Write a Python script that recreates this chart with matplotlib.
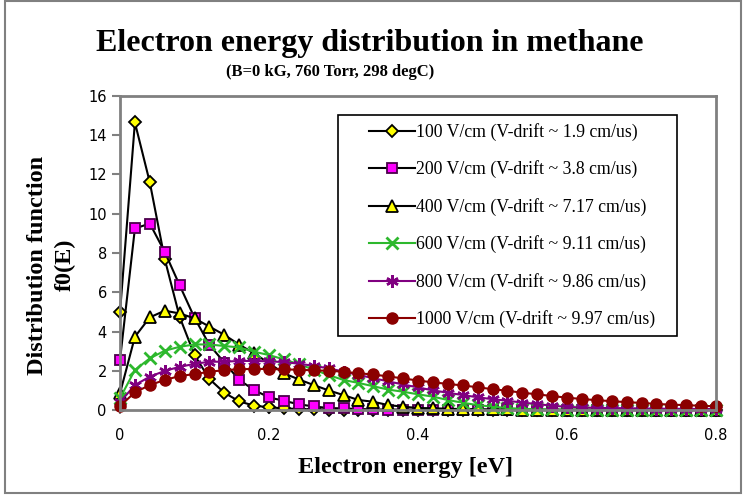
import matplotlib.pyplot as plt
from matplotlib.patches import Rectangle

energy = [round(0.02 * i, 2) for i in range(41)]

f_100 = [4.97, 14.65, 11.6, 7.7, 4.75, 2.8, 1.58, 0.88, 0.44, 0.22, 0.14, 0.08, 0.05, 0.03,
         0.02, 0.01, 0.01, 0, 0, 0, 0, 0, 0, 0, 0, 0, 0, 0, 0, 0, 0, 0, 0, 0, 0, 0, 0, 0, 0, 0, 0]
f_200 = [2.55, 9.25, 9.5, 8.06, 6.36, 4.7, 3.32, 2.42, 1.53, 1.02, 0.64, 0.47, 0.29, 0.18,
         0.1, 0.08, 0.05, 0.03, 0.02, 0.02, 0.01, 0.01, 0.01, 0, 0, 0, 0, 0, 0, 0, 0, 0, 0, 0,
         0, 0, 0, 0, 0, 0, 0]
f_400 = [0.85, 3.73, 4.72, 5.06, 4.92, 4.67, 4.25, 3.83, 3.33, 2.89, 2.38, 1.87, 1.56, 1.27,
         1.0, 0.76, 0.51, 0.42, 0.25, 0.17, 0.1, 0.09, 0.06, 0.05, 0.04, 0.03, 0.03, 0.02, 0.02,
         0.01, 0.01, 0.01, 0.01, 0, 0, 0, 0, 0, 0, 0, 0]
f_600 = [0.6, 2.04, 2.63, 3.02, 3.22, 3.34, 3.34, 3.26, 3.19, 2.97, 2.8, 2.58, 2.33, 2.06,
         1.78, 1.53, 1.38, 1.21, 1.04, 0.93, 0.8, 0.68, 0.51, 0.37, 0.25, 0.17, 0.1, 0.06, 0.04,
         0.03, 0.02, 0.02, 0.01, 0.01, 0.01, 0.01, 0, 0, 0, 0, 0]
f_800 = [0.4, 1.27, 1.7, 1.99, 2.2, 2.35, 2.46, 2.46, 2.5, 2.5, 2.48, 2.44, 2.36, 2.25, 2.12,
         1.96, 1.79, 1.62, 1.46, 1.3, 1.15, 1.0, 0.88, 0.76, 0.65, 0.55, 0.47, 0.38, 0.3, 0.22,
         0.16, 0.13, 0.11, 0.1, 0.09, 0.08, 0.07, 0.06, 0.06, 0.05, 0.05]
f_1000 = [0.2, 0.9, 1.27, 1.53, 1.73, 1.83, 1.95, 2.03, 2.08, 2.09, 2.09, 2.07, 2.05, 2.02,
          2.0, 1.95, 1.87, 1.81, 1.71, 1.61, 1.5, 1.41, 1.33, 1.25, 1.16, 1.06, 0.98, 0.88,
          0.8, 0.71, 0.63, 0.56, 0.5, 0.45, 0.4, 0.36, 0.31, 0.27, 0.25, 0.21, 0.19]

labels = ["100 V/cm (V-drift ~ 1.9 cm/us)",
          "200 V/cm (V-drift ~ 3.8 cm/us)",
          "400 V/cm (V-drift ~ 7.17 cm/us)",
          "600 V/cm (V-drift ~ 9.11 cm/us)",
          "800 V/cm (V-drift ~ 9.86 cm/us)",
          "1000 V/cm (V-drift ~ 9.97 cm/us)"]

serif = "Liberation Serif"
W, H = 747, 497

fig = plt.figure(figsize=(W / 100, H / 100), dpi=100)
ax = fig.add_axes([120 / W, 1 - 410 / H, 596 / W, 314 / H])

ax.plot(energy, f_100, "-D", color="black", lw=1.5, ms=6.5, mfc="#FFFF00", mec="black",
        mew=1.3, label=labels[0], clip_on=False)
ax.plot(energy, f_200, "-s", color="black", lw=1.5, ms=7, mfc="#FF00FF", mec="#4B004B",
        mew=1.3, label=labels[1], clip_on=False)
ax.plot(energy, f_400, "-^", color="black", lw=1.5, ms=8, mfc="#FFFF00", mec="black",
        mew=1.3, label=labels[2], clip_on=False)
ax.plot(energy, f_600, "-x", color="#2DB82D", lw=1.5, ms=8, mew=2, label=labels[3],
        clip_on=False)
# six-armed asterisk marker
ax.plot(energy, f_800, "-", marker=(6, 2, 0), color="#800080", lw=1.5, ms=9, mew=1.8,
        label=labels[4], clip_on=False)
ax.plot(energy, f_1000, "-o", color="#8B0000", lw=1.5, ms=8, mfc="#8B0000", mec="#8B0000",
        label=labels[5], clip_on=False)

ax.set_xlim(0, 0.8)
ax.set_ylim(0, 16)
ax.set_xticks([0, 0.2, 0.4, 0.6, 0.8])
ax.set_xticklabels(["0", "0.2", "0.4", "0.6", "0.8"])
ax.set_yticks(range(0, 17, 2))
ax.tick_params(axis="both", labelsize=10.5, color="#808080", width=1.5)
ax.tick_params(axis="y", length=6)
ax.tick_params(axis="x", length=3, pad=10)
for s in ax.spines.values():
    s.set_color("#808080")
    s.set_linewidth(2)

# axis titles
fig.text(405 / W, 1 - 467 / H, "Electron energy [eV]", family=serif,
         fontweight="bold", fontsize=17.5, ha="center", va="center")
fig.text(38 / W, 1 - 265 / H, "Distribution function", family=serif,
         fontweight="bold", fontsize=17.5, rotation=90, ha="center", va="center")
fig.text(65 / W, 1 - 265 / H, "f0(E)", family=serif, fontweight="bold",
         fontsize=17.5, rotation=90, ha="center", va="center")

# chart title
fig.text(370 / W, 1 - 44 / H, "Electron energy distribution in methane", family=serif,
         fontweight="bold", fontsize=23, ha="center", va="center")
fig.text(330 / W, 1 - 72 / H, "(B=0 kG, 760 Torr, 298 degC)", family=serif,
         fontweight="bold", fontsize=12, ha="center", va="center")

# legend: entries without frame, box drawn separately behind them
leg = ax.legend(loc="upper left", bbox_to_anchor=(361 / W, 1 - 115 / H),
                bbox_transform=fig.transFigure, prop={"family": serif, "size": 12.8},
                frameon=False, borderaxespad=0, borderpad=0.45,
                handlelength=2.6, handletextpad=0.05, labelspacing=1.1)
leg.set_zorder(6)
ax.add_patch(Rectangle((338 / W, 1 - 336 / H), 339 / W, 221 / H,
                       transform=fig.transFigure, clip_on=False, facecolor="white",
                       edgecolor="black", lw=1.2, zorder=5))

# outer chart border
fig.patches.append(Rectangle((5 / W, 4 / H), 736 / W, 492 / H,
                             transform=fig.transFigure, fill=False,
                             edgecolor="#808080", lw=1.5))

fig.savefig("out.png", dpi=100)
